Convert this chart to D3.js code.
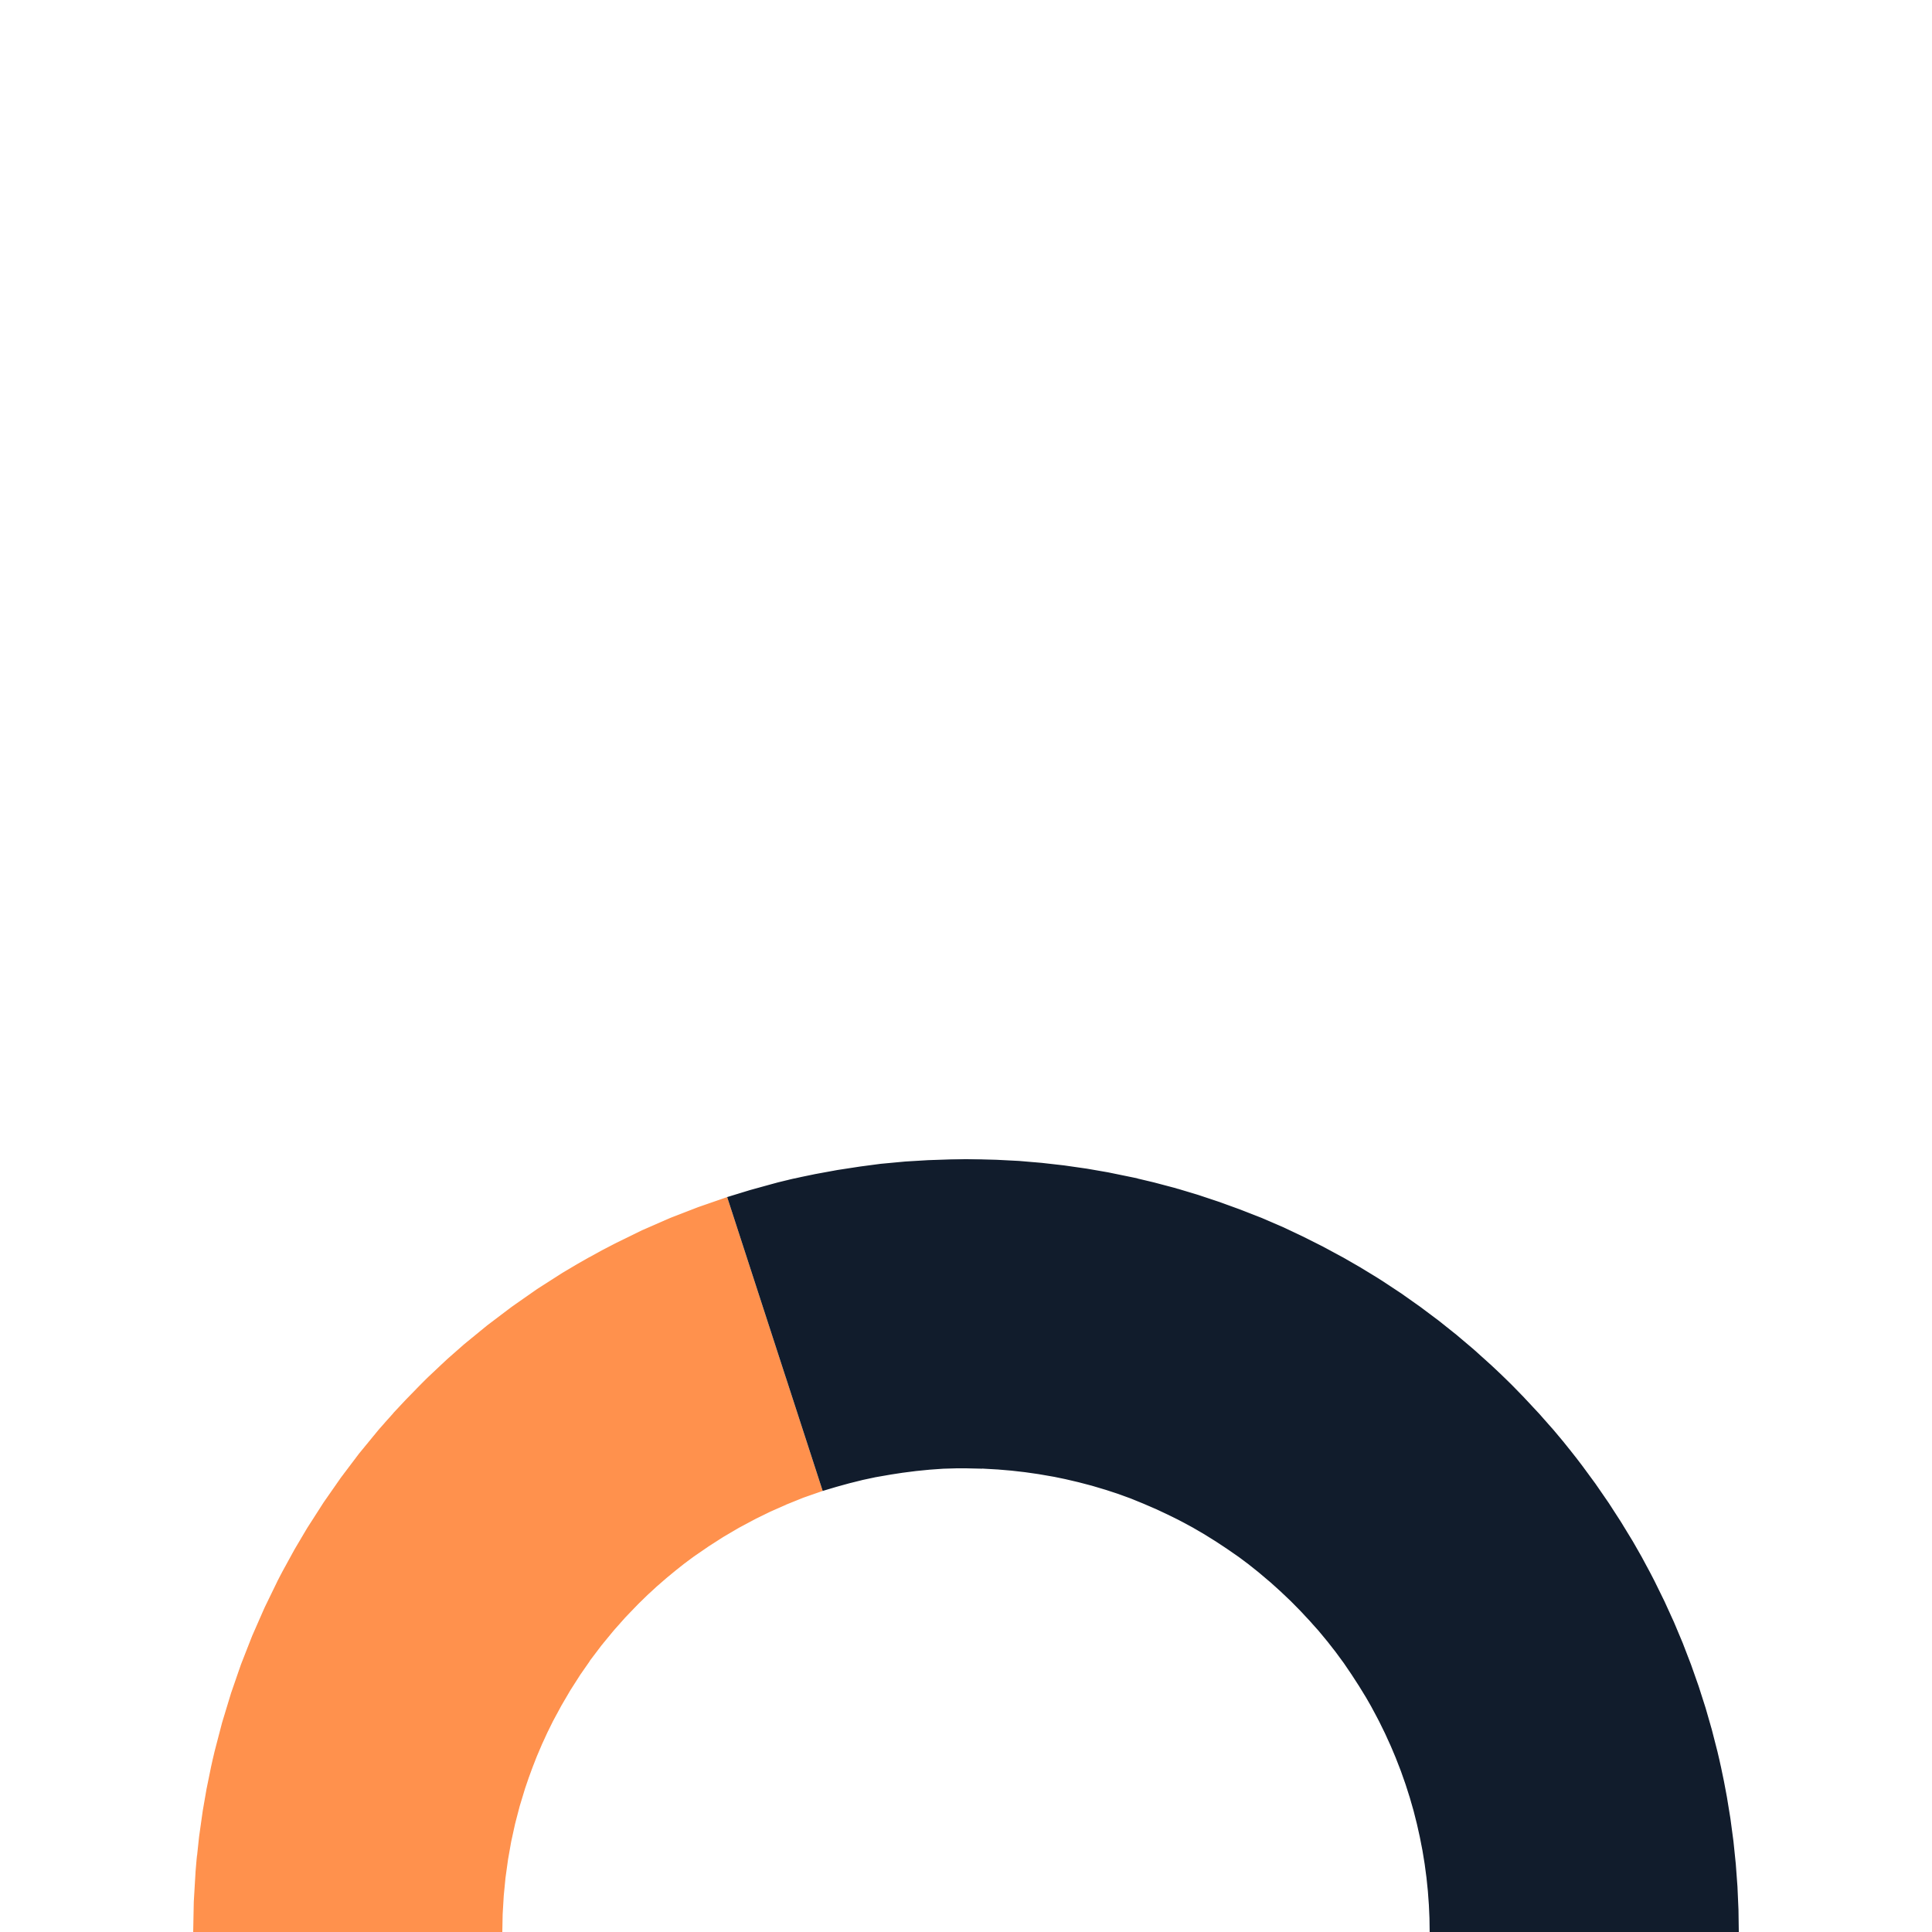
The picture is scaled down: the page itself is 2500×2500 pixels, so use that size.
<!DOCTYPE html>
<html>
<head>
<meta charset="utf-8">
<script src="https://cdn.jsdelivr.net/npm/d3@7"></script>
<style>
html,body{margin:0;padding:0;background:#fff;}
svg{display:block;}
</style>
</head>
<body>
<script>
const categories = ["A", "B"];
const values = [40, 60];
const colors = ["#FF914D", "#111C2C"];

const W = 2500, H = 2500;
const svg = d3.select("body").append("svg").attr("width", W).attr("height", H);
const g = svg.append("g").attr("transform", `translate(${W/2},${H})`);

const pie = d3.pie().sort(null).startAngle(-Math.PI/2).endAngle(Math.PI/2);
const arc = d3.arc().innerRadius(600).outerRadius(1000);
const color = d3.scaleOrdinal().domain(categories).range(colors);

const data = categories.map((c, i) => ({cat: c, value: values[i]}));
g.selectAll("path").data(pie.value(d => d.value)(data)).join("path")
  .attr("d", arc)
  .attr("fill", d => color(d.data.cat));
</script>
</body>
</html>
